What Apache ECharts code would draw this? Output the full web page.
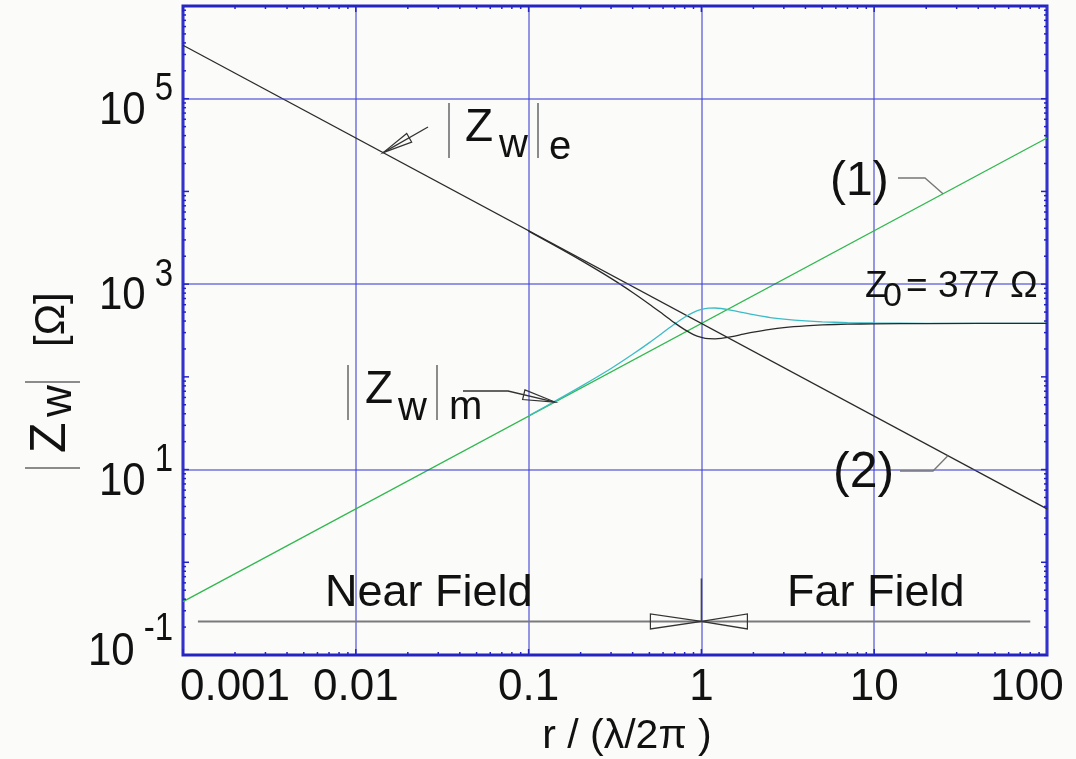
<!DOCTYPE html>
<html>
<head>
<meta charset="utf-8">
<title>Wave impedance |Zw| vs r</title>
<script src="https://cdn.jsdelivr.net/npm/echarts@6/dist/echarts.min.js"></script>
<style>
  html, body { margin: 0; padding: 0; background: #fbfbfa; }
  #chart { width: 1076px; height: 759px; }
</style>
</head>
<body>
<div id="chart"></div>
<script>
// tick labels of r / (λ/2π)
const xTickLabels = ['0.001', '0.01', '0.1', '1', '10', '100'];
// y tick labels are 10^n for these n, grid lines only at the inner ones
const yTickExps = [-1, 1, 3, 5];
const yGridValues = [10, 1000, 100000];

// straight asymptotes (1) ~ r and (2) ~ 1/r, end points
const asymR = [0.001, 100];
const asym1 = [0.377, 37700];
const asym2 = [377000, 3.77];

// |Zw|e and |Zw|m curves
const curveR = [0.1, 0.15, 0.2, 0.3, 0.4, 0.5, 0.6, 0.7, 0.8, 0.9, 1, 1.1, 1.2, 1.3, 1.5, 1.75, 2, 2.5, 3, 4, 5, 7, 10, 20, 100];
const zwE = [3733, 2458, 1813, 1154, 814, 608, 473, 382, 323, 286, 267, 258, 257, 260, 272, 289, 304, 326, 340, 355, 363, 370, 373, 376, 377];
const zwM = [38.1, 57.8, 78.4, 123, 175, 234, 301, 372, 440, 496, 533, 551, 553, 546, 522, 492, 468, 436, 419, 401, 392, 385, 381, 378, 377];

// near field / far field bar
const fieldR = [0.00122, 80];
const fieldZ = 0.23;

// where the annotation arrows touch the lines
const tipE = [0.0144, 26200];
const tipM = [0.142, 53.5];
const tip1 = [25, 9425];
const tip2 = [26.7, 14.1];

const FONT = '"Liberation Sans", Arial, sans-serif';
const BLUE = '#2424c2';
const GRIDBLUE = 'rgba(64,64,214,0.72)';
const INK = '#111';

const pairs = (xs, ys) => xs.map((x, i) => [x, ys[i]]);

const chart = echarts.init(document.getElementById('chart'));

const option = {
  backgroundColor: '#fbfbfa',
  animation: false,
  grid: {
    left: 183, right: 29, top: 6, bottom: 104,
    containLabel: false,
    outerBoundsMode: 'none',
    show: true,
    borderColor: BLUE,
    borderWidth: 3,
    backgroundColor: 'transparent'
  },
  xAxis: {
    type: 'log',
    logBase: 10,
    min: 0.001,
    max: 100,
    interval: 1,
    name: 'r / (λ/2π )',
    nameLocation: 'middle',
    nameGap: 61,
    nameTextStyle: { fontFamily: FONT, fontSize: 41, color: INK, padding: [0, 0, 0, 24] },
    axisLine: { show: false },
    axisTick: { show: false },
    axisLabel: {
      margin: 11,
      color: INK,
      fontFamily: FONT,
      fontSize: 44,
      formatter: v => {
        const i = Math.round(Math.log10(v)) + 3
        const s = xTickLabels[i]
        if (i === 0) return '{first|' + s + '}'
        if (i === xTickLabels.length - 1) return '{last|' + s + '}'
        return s
      },
      rich: {
        first: { fontFamily: FONT, fontSize: 44, color: INK, padding: [0, 0, 0, 104] },
        last: { fontFamily: FONT, fontSize: 44, color: INK, padding: [0, 40, 0, 0] }
      }
    },
    splitLine: { show: true, lineStyle: { color: GRIDBLUE, width: 1.5 } }
  },
  yAxis: {
    type: 'log',
    logBase: 10,
    min: 0.1,
    max: 1000000,
    interval: 1,
    axisLine: { show: false },
    axisTick: { show: false },
    splitLine: { show: false },
    // 10^n labels are drawn below as graphic text at the axis positions
    axisLabel: { show: false }
  },
  series: [
    {
      name: 'Field',
      type: 'line',
      z: 2,
      symbol: 'none',
      silent: true,
      data: fieldR.map(r => [r, fieldZ]),
      lineStyle: { color: '#7a7a7a', width: 2 },
      markLine: {
        silent: true,
        symbol: 'none',
        label: { show: false },
        lineStyle: { color: GRIDBLUE, width: 1.5, type: 'solid' },
        data: yGridValues.map(v => ({ yAxis: v }))
      }
    },
    {
      name: '(1)',
      type: 'line',
      z: 3,
      symbol: 'none',
      data: pairs(asymR, asym1),
      lineStyle: { color: '#2fb84e', width: 1.3 }
    },
    {
      name: '(2)',
      type: 'line',
      z: 3,
      symbol: 'none',
      data: pairs(asymR, asym2),
      lineStyle: { color: '#2a2a2a', width: 1.3 }
    },
    {
      name: '|Zw|m',
      type: 'line',
      z: 4,
      symbol: 'none',
      smooth: 0.3,
      data: pairs(curveR, zwM),
      lineStyle: { color: '#3cbcc6', width: 1.3 }
    },
    {
      name: '|Zw|e',
      type: 'line',
      z: 4,
      symbol: 'none',
      smooth: 0.3,
      data: pairs(curveR, zwE),
      lineStyle: { color: '#2a2a2a', width: 1.3 }
    }
  ]
};

chart.setOption(option);

// annotations, placed after the axes exist
const px = p => chart.convertToPixel({ gridIndex: 0 }, p);

function label(x, y, text, size, align, sy) {
  return {
    type: 'text', x, y, silent: true, z: 10, scaleY: sy || 1,
    style: { text, font: size + 'px ' + FONT, fill: INK, textAlign: align || 'left', textVerticalAlign: 'middle' }
  };
}
function seg(x1, y1, x2, y2, color, w) {
  return { type: 'line', silent: true, z: 10, shape: { x1, y1, x2, y2 }, style: { stroke: color, lineWidth: w } };
}
function poly(points, color) {
  return { type: 'polyline', silent: true, z: 10, shape: { points }, style: { stroke: color, lineWidth: 1.3, fill: null } };
}
function hollowHead(tip, from, len, half) {
  const dx = tip[0] - from[0], dy = tip[1] - from[1];
  const d = Math.hypot(dx, dy);
  const ux = dx / d, uy = dy / d;
  const bx = tip[0] - ux * len, by = tip[1] - uy * len;
  return {
    type: 'polygon', silent: true, z: 10,
    shape: { points: [tip, [bx - uy * half, by + ux * half], [bx + uy * half, by - ux * half]] },
    style: { fill: 'rgba(0,0,0,0)', stroke: '#333', lineWidth: 1.2 }
  };
}

const measureCtx = document.createElement('canvas').getContext('2d');
function textWidth(s, size) {
  measureCtx.font = size + 'px ' + FONT;
  return measureCtx.measureText(s).width;
}

const pE = px(tipE), pM = px(tipM), p1 = px(tip1), p2 = px(tip2);
const pC = px([1, fieldZ]);
const [gx0, gy0] = px([0.001, 0.1]);
const [gx1, gy1] = px([100, 1000000]);

const graphics = [
  // |Zw|e
  seg(449, 103, 449, 158, '#666', 1.5),
  label(465, 128.5, 'Z', 46),
  label(499, 145.5, 'w', 40),
  seg(538, 103, 538, 158, '#666', 1.5),
  label(549, 147.5, 'e', 40),
  poly([[428, 127], pE], '#333'),
  hollowHead(pE, [428, 127], 30, 5),

  // |Zw|m
  seg(348, 365, 348, 420, '#666', 1.5),
  label(365, 390, 'Z', 46),
  label(398, 408.5, 'w', 40),
  seg(437, 365, 437, 420, '#666', 1.5),
  label(449, 407.5, 'm', 40),
  poly([[463, 391], [508, 391], pM], '#333'),
  hollowHead(pM, [508, 391], 32, 5),

  // (1) and (2)
  label(830, 181.5, '(1)', 48),
  poly([[898, 178], [925, 178], p1], '#777'),
  label(833, 473, '(2)', 50),
  poly([[900, 471], [933, 471], p2], '#777'),

  // Z0= 377 Ω
  label(865, 286.5, 'Z', 37),
  label(883, 296.5, '0', 34),
  label(906, 286.5, '= 377 Ω', 37),

  // near / far field
  label(325, 593.5, 'Near Field', 45),
  label(787, 593.5, 'Far Field', 45),
  {
    type: 'polygon', silent: true, z: 10,
    shape: { points: [pC, [pC[0] - 51, pC[1] - 7.5], [pC[0] - 51, pC[1] + 7.5]] },
    style: { fill: 'rgba(0,0,0,0)', stroke: '#333', lineWidth: 1.2 }
  },
  {
    type: 'polygon', silent: true, z: 10,
    shape: { points: [pC, [pC[0] + 46, pC[1] - 7.5], [pC[0] + 46, pC[1] + 7.5]] },
    style: { fill: 'rgba(0,0,0,0)', stroke: '#333', lineWidth: 1.2 }
  },
  seg(pC[0], pC[1] - 43, pC[0], pC[1], '#444', 1.5),

  // y axis title |Zw|  [Ω], reading bottom to top
  {
    type: 'group', x: 25, y: 470, rotation: Math.PI / 2, silent: true,
    children: [
      seg(2, 0, 2, 55, '#666', 1.5),
      label(17, 26, 'Z', 50),
      label(53, 33.7, 'w', 44),
      seg(88, 0, 88, 55, '#666', 1.5),
      label(123, 27.5, '[Ω]', 42)
    ]
  }
];

// y tick labels 10^n, exponent raised, right edge 10px off the frame
yTickExps.forEach(n => {
  const y = px([1, Math.pow(10, n)])[1];
  const ex = String(n);
  const right = gx0 - 10;
  const bottomOne = n === yTickExps[0];
  const baseDy = bottomOne ? -2.5 : 12;
  const expDy = bottomOne ? -25 : -9;
  graphics.push(
    label(right - textWidth(ex, 33) - 9, y + baseDy, '10', 42, 'right', 1.12),
    label(right, y + expDy, ex, 33, 'right', 1.15)
  );
});

// small log ticks on all four sides of the frame
for (let k = -3; k < 2; k++) {
  for (let m = 1; m < 10; m++) {
    const x = px([m * Math.pow(10, k), 1])[0];
    const len = m === 1 ? 6 : 3;
    graphics.push(seg(x, gy0, x, gy0 - len, BLUE, 1.5), seg(x, gy1, x, gy1 + len, BLUE, 1.5));
  }
}
for (let k = -1; k < 6; k++) {
  for (let m = 1; m < 10; m++) {
    const y = px([1, m * Math.pow(10, k)])[1];
    const len = m === 1 ? 6 : 3;
    graphics.push(seg(gx0, y, gx0 + len, y, BLUE, 1.5), seg(gx1, y, gx1 - len, y, BLUE, 1.5));
  }
}

chart.setOption({ graphic: graphics });
</script>
</body>
</html>
